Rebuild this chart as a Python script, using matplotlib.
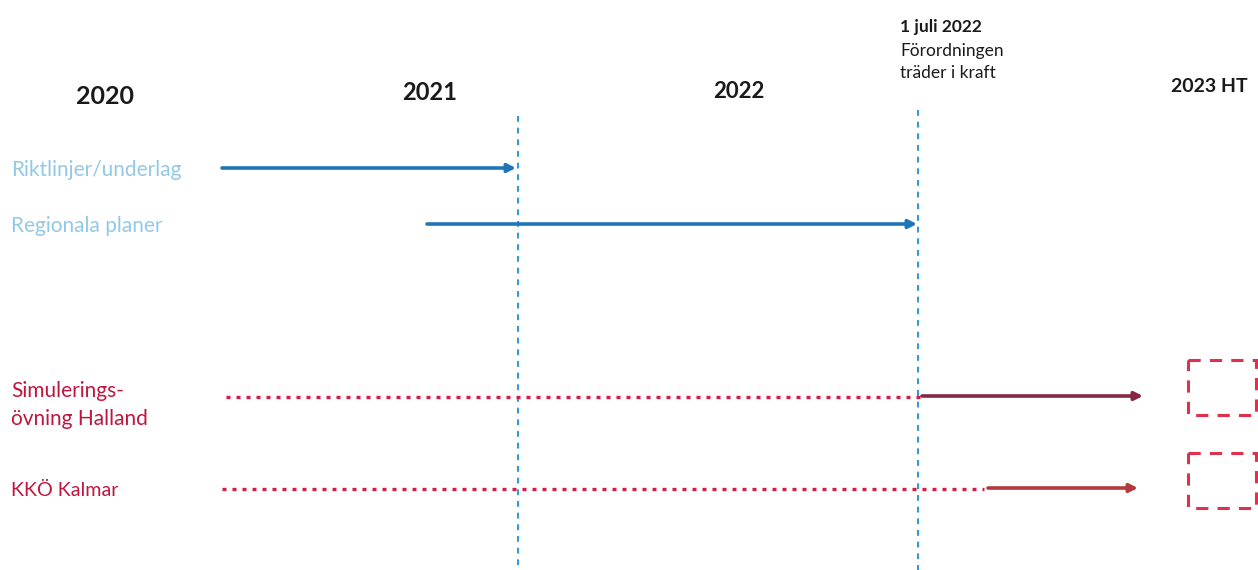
import matplotlib.pyplot as plt
from matplotlib.patches import Rectangle

plt.rcParams['font.family'] = ['Lato', 'DejaVu Sans']

# tidslinje i bildens egna enheter (0..1258 bred, 0..570 hög)
years = ["2020", "2021", "2022", "2023 HT"]
year_x = [105, 430, 739, 1209]
year_y = [97, 93, 92, 86]
year_size = [18, 17, 16, 14]

milestones_x = [518, 918]

blue_labels = ["Riktlinjer/underlag", "Regionala planer"]
blue_y = [168, 224]
blue_start = [222, 427]
blue_end = [516, 917]

red_labels = ["Simulerings-\növning Halland", "KKÖ Kalmar"]
red_label_y = [405, 490]
red_label_size = [15, 14.2]
red_y = [396, 488]
dot_start = [226, 222]
dot_end = [920, 984]
arrow_start = [922, 988]
arrow_end = [1143, 1138]
arrow_colors = ["#862642", "#b33a3c"]

box_y = [(360, 415), (453, 508)]

fig = plt.figure(figsize=(12.58, 5.70), dpi=100)
ax = fig.add_axes([0, 0, 1, 1])
ax.set_xlim(0, 1258)
ax.set_ylim(570, 0)
ax.axis('off')

for t, x, y, s in zip(years, year_x, year_y, year_size):
    ax.text(x, y, t, ha='center', va='center', fontsize=s, fontweight='bold', color='#1a1a1a')

ax.text(900, 27, "1 juli 2022", fontsize=12.5, fontweight='bold', va='center', color='#1a1a1a')
ax.text(900, 51, "Förordningen", fontsize=12.5, va='center', color='#1a1a1a')
ax.text(900, 73, "träder i kraft", fontsize=12.5, va='center', color='#1a1a1a')

ax.plot([milestones_x[0]] * 2, [116, 570], color='#2a9ad8', lw=1.4, ls=(0, (3, 3)))
ax.plot([milestones_x[1]] * 2, [110, 570], color='#2a9ad8', lw=1.4, ls=(0, (3, 3)))

for lab, y, x0, x1 in zip(blue_labels, blue_y, blue_start, blue_end):
    ax.text(11, y + 2, lab, fontsize=15, va='center', color='#93c9e6')
    ax.annotate('', xy=(x1, y), xytext=(x0, y),
                arrowprops=dict(arrowstyle='-|>', color='#1f75b8', lw=2.6,
                                mutation_scale=12, shrinkA=0, shrinkB=0))

for lab, ly, s, y, d0, d1, a0, a1, c in zip(red_labels, red_label_y, red_label_size, red_y,
                                           dot_start, dot_end, arrow_start, arrow_end,
                                           arrow_colors):
    ax.text(11, ly, lab, fontsize=s, va='center', color='#c0163e', linespacing=1.45)
    ax.plot([d0, d1], [y + 1, y + 1], color='#d01e48', lw=2.4, ls=(0, (1.2, 1.8)),
            dash_capstyle='butt')
    ax.annotate('', xy=(a1, y), xytext=(a0, y),
                arrowprops=dict(arrowstyle='-|>', color=c, lw=2.6,
                                mutation_scale=12, shrinkA=0, shrinkB=0))

for y0, y1 in box_y:
    ax.add_patch(Rectangle((1188, y0), 68, y1 - y0, fill=False, edgecolor='#e0304c',
                           lw=2.2, ls=(0, (4, 3))))

fig.savefig('out.png', dpi=100)
